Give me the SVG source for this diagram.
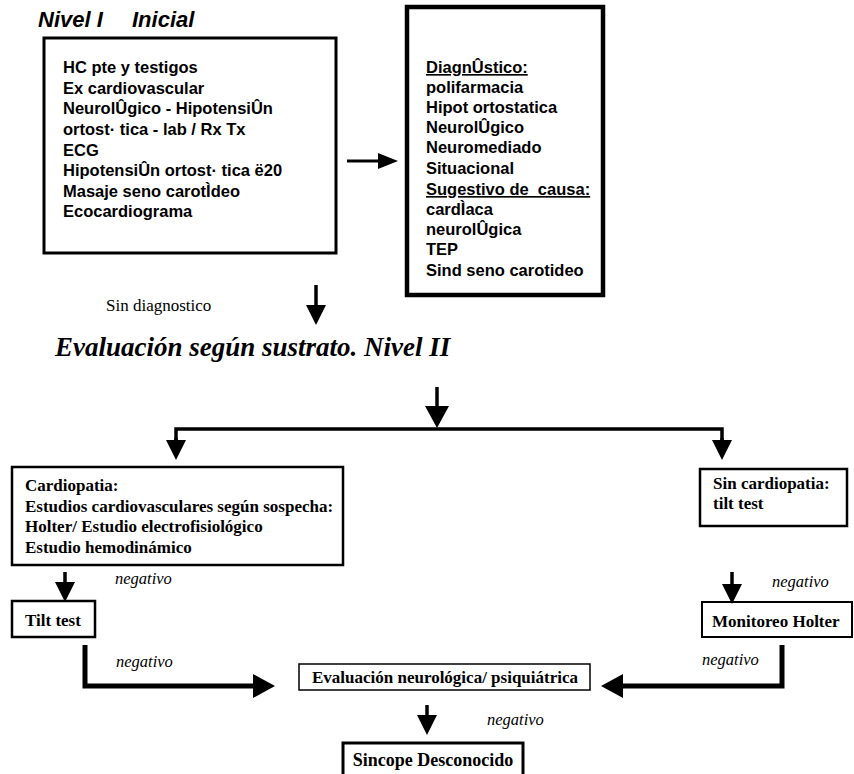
<svg xmlns="http://www.w3.org/2000/svg" width="854" height="774" viewBox="0 0 854 774">
<style>
.box{fill:#fff;stroke:#000}
.sans{font-family:"Liberation Sans",Arial,sans-serif;font-weight:bold;font-size:16.5px;fill:#000}
.ser{font-family:"Liberation Serif","Times New Roman",serif;font-weight:bold;font-size:17px;fill:#000}
.neg{font-family:"Liberation Serif","Times New Roman",serif;font-style:italic;font-size:16.5px;fill:#000}
.ln{fill:none;stroke:#000}
</style>
<defs>
<marker id="ha" viewBox="0 0 20 20" refX="0" refY="10" markerWidth="20" markerHeight="20" orient="auto" markerUnits="userSpaceOnUse"><path d="M0,0 L20,10 L0,20 z" fill="#000"/></marker>
<marker id="hb" viewBox="0 0 22 24" refX="0" refY="12" markerWidth="22" markerHeight="24" orient="auto" markerUnits="userSpaceOnUse"><path d="M0,0 L22,12 L0,24 z" fill="#000"/></marker>
<marker id="hc" viewBox="0 0 20 16" refX="0" refY="8" markerWidth="20" markerHeight="16" orient="auto" markerUnits="userSpaceOnUse"><path d="M0,0 L20,8 L0,16 z" fill="#000"/></marker>
</defs>
<text x="38" y="27" style="font-family:'Liberation Sans',Arial,sans-serif;font-weight:bold;font-style:italic;font-size:22px" xml:space="preserve">Nivel I   <tspan x="132">Inicial</tspan></text>
<g id="n1">
<rect class="box" x="44" y="38" width="292" height="215" stroke-width="3"/>
<text class="sans" x="63" y="73">HC pte y testigos</text>
<text class="sans" x="63" y="94">Ex cardiovascular</text>
<text class="sans" x="63" y="114">NeurolÛgico - HipotensiÛn</text>
<text class="sans" x="63" y="135">ortost· tica - lab / Rx Tx</text>
<text class="sans" x="63" y="156">ECG</text>
<text class="sans" x="63" y="176">HipotensiÛn ortost· tica ë20</text>
<text class="sans" x="63" y="197">Masaje seno carotÌdeo</text>
<text class="sans" x="63" y="217">Ecocardiograma</text>
</g>
<g id="n2">
<rect class="box" x="407" y="7" width="196" height="288" stroke-width="4.5"/>
<text class="sans" x="426" y="73" text-decoration="underline">DiagnÛstico:</text>
<text class="sans" x="426" y="93">polifarmacia</text>
<text class="sans" x="426" y="113">Hipot ortostatica</text>
<text class="sans" x="426" y="133">NeurolÛgico</text>
<text class="sans" x="426" y="153">Neuromediado</text>
<text class="sans" x="426" y="174">Situacional</text>
<text class="sans" x="426" y="195" text-decoration="underline" xml:space="preserve">Sugestivo de  causa:</text>
<text class="sans" x="426" y="215">cardÌaca</text>
<text class="sans" x="426" y="235">neurolÛgica</text>
<text class="sans" x="426" y="255">TEP</text>
<text class="sans" x="426" y="276">Sind seno carotideo</text>
</g>
<text x="106" y="311" style="font-family:'Liberation Serif','Times New Roman',serif;font-size:17px">Sin diagnostico</text>
<text x="55" y="356" style="font-family:'Liberation Serif','Times New Roman',serif;font-weight:bold;font-style:italic;font-size:27px">Evaluación según sustrato. Nivel II</text>
<g id="n3">
<rect class="box" x="12" y="467" width="331" height="98" stroke-width="2.5"/>
<text class="ser" x="25" y="491">Cardiopatia:</text>
<text class="ser" x="25" y="512">Estudios cardiovasculares según sospecha:</text>
<text class="ser" x="25" y="532">Holter/ Estudio electrofisiológico</text>
<text class="ser" x="25" y="553">Estudio hemodinámico</text>
</g>
<g id="n4">
<rect class="box" x="700" y="469" width="147" height="57" stroke-width="2.5"/>
<text class="ser" x="713" y="489">Sin cardiopatia:</text>
<text class="ser" x="713" y="509">tilt test</text>
</g>
<g id="n5">
<rect class="box" x="12" y="601" width="83" height="36" stroke-width="2.5"/>
<text class="ser" x="25" y="626">Tilt test</text>
</g>
<g id="n6">
<rect class="box" x="702" y="602" width="150" height="35" stroke-width="2"/>
<text class="ser" x="712" y="627">Monitoreo Holter</text>
</g>
<g id="n7">
<rect class="box" x="299" y="664" width="291" height="26" stroke-width="1.5"/>
<text class="ser" x="445" y="683" text-anchor="middle">Evaluación neurológica/ psiquiátrica</text>
</g>
<g id="n8">
<rect class="box" x="343" y="743" width="180" height="45" stroke-width="3"/>
<text class="ser" x="433" y="766" text-anchor="middle" style="font-size:18px">Sincope Desconocido</text>
</g>
<g id="labels">
<text class="neg" x="115" y="584">negativo</text>
<text class="neg" x="772" y="587">negativo</text>
<text class="neg" x="116" y="667">negativo</text>
<text class="neg" x="702" y="665">negativo</text>
<text class="neg" x="487" y="725">negativo</text>
</g>
<g id="connectors">
<line class="ln" x1="347" y1="161" x2="378" y2="161" stroke-width="3" marker-end="url(#hc)"/>
<line class="ln" x1="316" y1="285" x2="316" y2="305" stroke-width="3.5" marker-end="url(#ha)"/>
<line class="ln" x1="437" y1="387" x2="437" y2="406" stroke-width="3.5" marker-end="url(#hb)"/>
<polyline class="ln" points="176,441 176,429 722,429 722,441" stroke-width="3.5"/>
<line class="ln" x1="176" y1="438" x2="176" y2="440" stroke-width="3.5" marker-end="url(#ha)"/>
<line class="ln" x1="722" y1="438" x2="722" y2="440" stroke-width="3.5" marker-end="url(#ha)"/>
<line class="ln" x1="65" y1="572" x2="65" y2="582" stroke-width="3.5" marker-end="url(#ha)"/>
<line class="ln" x1="732" y1="572" x2="732" y2="584" stroke-width="3.5" marker-end="url(#ha)"/>
<polyline class="ln" points="85,645 85,686 253,686" stroke-width="5" marker-end="url(#hb)"/>
<polyline class="ln" points="782,645 782,686 623,686" stroke-width="5" marker-end="url(#hb)"/>
<line class="ln" x1="427" y1="705" x2="427" y2="715" stroke-width="3.5" marker-end="url(#ha)"/>
</g>
</svg>
